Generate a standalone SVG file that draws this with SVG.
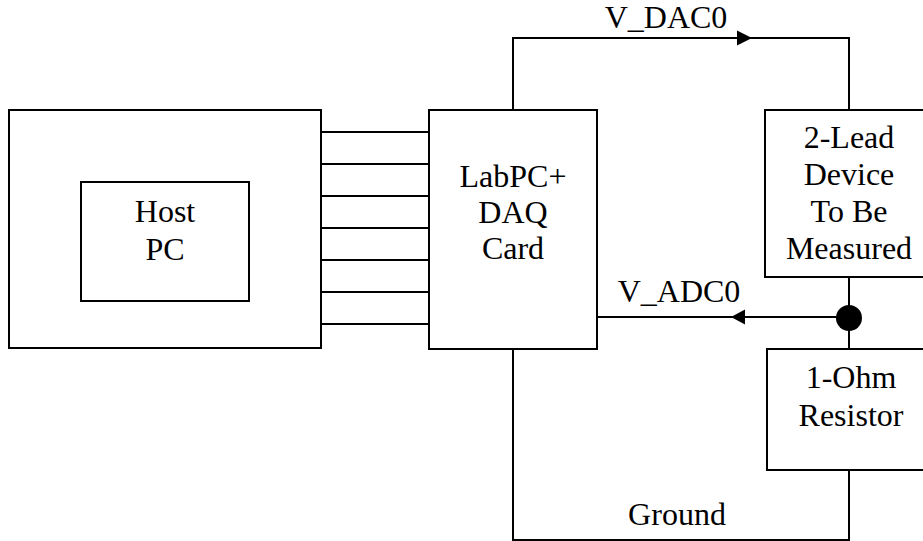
<svg xmlns="http://www.w3.org/2000/svg" width="923" height="541" viewBox="0 0 923 541">
<style>
.box{fill:none;stroke:#000;stroke-width:2}
.ln{fill:none;stroke:#000;stroke-width:2}
text{font-family:"Liberation Serif","Times New Roman",serif;font-size:32px;fill:#000;text-anchor:middle}
</style>
<rect width="923" height="541" fill="#fff"/>
<g id="host-pc">
<rect class="box" x="9" y="110" width="312" height="238"/>
<rect class="box" x="81" y="182" width="168" height="119"/>
<text x="165" y="222">Host</text>
<text x="165" y="260">PC</text>
</g>
<g id="daq-card">
<rect class="box" x="429" y="110" width="168" height="239"/>
<text x="513" y="187">LabPC+</text>
<text x="513" y="223">DAQ</text>
<text x="513" y="259">Card</text>
</g>
<g id="device">
<rect class="box" x="765" y="110" width="160" height="167"/>
<text x="849" y="148">2-Lead</text>
<text x="849" y="185">Device</text>
<text x="849" y="222">To Be</text>
<text x="849" y="259">Measured</text>
</g>
<g id="resistor">
<rect class="box" x="767" y="349" width="158" height="121"/>
<text x="851" y="388">1-Ohm</text>
<text x="851" y="426">Resistor</text>
</g>
<g id="connectors">
<path class="ln" d="M321 132H429M321 164H429M321 196H429M321 228H429M321 260H429M321 292H429M321 324H429"/>
<polyline class="ln" points="513,110 513,38 849,38 849,110"/>
<polygon points="752,38 737,30.5 737,45.5" fill="#000"/>
<line class="ln" x1="597" y1="317" x2="849" y2="317"/>
<polygon points="731,317 745,309.5 745,324.5" fill="#000"/>
<line class="ln" x1="849" y1="277" x2="849" y2="349"/>
<circle cx="849" cy="318" r="13" fill="#000"/>
<polyline class="ln" points="513,349 513,540 849,540 849,470"/>
<text x="666" y="28">V_DAC0</text>
<text x="679" y="302">V_ADC0</text>
<text x="677" y="525">Ground</text>
</g>
</svg>
